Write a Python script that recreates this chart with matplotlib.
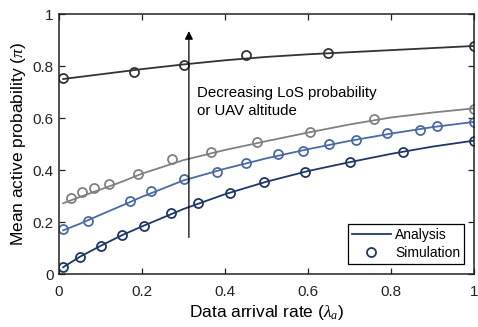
import numpy as np
import matplotlib
matplotlib.use('Agg')
import matplotlib.pyplot as plt

plt.rcParams['font.family'] = ['Liberation Sans', 'DejaVu Sans']
plt.rcParams['mathtext.fontset'] = 'custom'
plt.rcParams['mathtext.it'] = 'Liberation Serif:italic'

# === Данные: аналитика (линии) ===
x_line = [0.01, 0.05, 0.1, 0.15, 0.2, 0.3, 0.4, 0.5, 0.6, 0.7, 0.8, 0.9, 1.0]
top_line = [0.750, 0.758, 0.768, 0.778, 0.788, 0.806, 0.822, 0.835, 0.845, 0.853, 0.861, 0.869, 0.877]
gray_line = [0.272, 0.296, 0.325, 0.354, 0.386, 0.438, 0.477, 0.511, 0.544, 0.575, 0.602, 0.621, 0.637]
blue_line = [0.168, 0.193, 0.228, 0.262, 0.297, 0.360, 0.405, 0.445, 0.480, 0.512, 0.540, 0.565, 0.585]
navy_line = [0.026, 0.066, 0.108, 0.148, 0.183, 0.250, 0.307, 0.355, 0.396, 0.430, 0.462, 0.490, 0.513]

# === Данные: симуляция (маркеры) ===
top_x = [0.01, 0.181, 0.30, 0.45, 0.649, 1.0]
top_y = [0.753, 0.778, 0.803, 0.841, 0.849, 0.877]
gray_x = [0.029, 0.056, 0.085, 0.12, 0.191, 0.273, 0.366, 0.476, 0.605, 0.759, 1.0]
gray_y = [0.294, 0.317, 0.330, 0.345, 0.383, 0.442, 0.469, 0.507, 0.547, 0.595, 0.635]
blue_x = [0.01, 0.071, 0.171, 0.221, 0.301, 0.38, 0.45, 0.528, 0.587, 0.651, 0.715, 0.79, 0.87, 0.91, 1.0]
blue_y = [0.173, 0.205, 0.281, 0.320, 0.365, 0.394, 0.428, 0.460, 0.473, 0.500, 0.515, 0.541, 0.554, 0.570, 0.585]
navy_x = [0.01, 0.05, 0.101, 0.151, 0.206, 0.269, 0.336, 0.413, 0.495, 0.593, 0.701, 0.83, 1.0]
navy_y = [0.026, 0.067, 0.108, 0.150, 0.186, 0.233, 0.272, 0.312, 0.353, 0.394, 0.430, 0.470, 0.512]

colors = ['#333333', '#808080', '#4a6aa3', '#1e3763']
lines = [top_line, gray_line, blue_line, navy_line]
sims = [(top_x, top_y), (gray_x, gray_y), (blue_x, blue_y), (navy_x, navy_y)]

fig = plt.figure(figsize=(4.78, 3.27), dpi=100)
ax = fig.add_axes([59/478, 53/327, 415/478, 260/327])

for c, ly, (sx, sy) in zip(colors, lines, sims):
  ax.plot(x_line, ly, color=c, lw=1.3)
  ax.plot(sx, sy, 'o', mfc='none', mec=c, mew=1.3, ms=6.5)

# Стрелка и подпись
ax.annotate('', xy=(0.313, 0.945), xytext=(0.313, 0.13),
            arrowprops=dict(arrowstyle='-|>', color='black', lw=0.9, mutation_scale=12))
ax.text(0.333, 0.66, 'Decreasing LoS probability\nor UAV altitude', fontsize=10.8,
        va='center', ha='left', linespacing=1.35)

# Легенда
h1, = ax.plot([], [], color=colors[3], lw=1.3)
h2, = ax.plot([], [], 'o', mfc='none', mec=colors[3], mew=1.3, ms=6.5, ls='none')
leg = ax.legend([h1, h2], ['Analysis', 'Simulation'], loc='lower right', fontsize=10,
                fancybox=False, edgecolor='black', framealpha=1, handlelength=2.8,
                borderpad=0.3, labelspacing=0.3, handletextpad=0.3, borderaxespad=0.7)
leg.get_frame().set_linewidth(0.9)

ax.set_xlim(0, 1)
ax.set_ylim(0, 1)
ax.set_xticks([0, 0.2, 0.4, 0.6, 0.8, 1])
ax.set_xticklabels(['0', '0.2', '0.4', '0.6', '0.8', '1'])
ax.set_yticks([0, 0.2, 0.4, 0.6, 0.8, 1])
ax.set_yticklabels(['0', '0.2', '0.4', '0.6', '0.8', '1'])
ax.tick_params(direction='in', top=True, right=True, labelsize=11, length=4, width=0.9,
               colors='#222222')
ax.tick_params(axis='x', pad=8)
ax.tick_params(axis='y', pad=4)
for s in ax.spines.values():
  s.set_linewidth(1.1)
  s.set_color('#222222')

ax.set_xlabel(r'Data arrival rate ($\lambda_a$)', fontsize=12.5, labelpad=3)
ax.set_ylabel(r'Mean active probability ($\pi$)', fontsize=12.5, labelpad=3)

fig.savefig('out.png', dpi=100)
